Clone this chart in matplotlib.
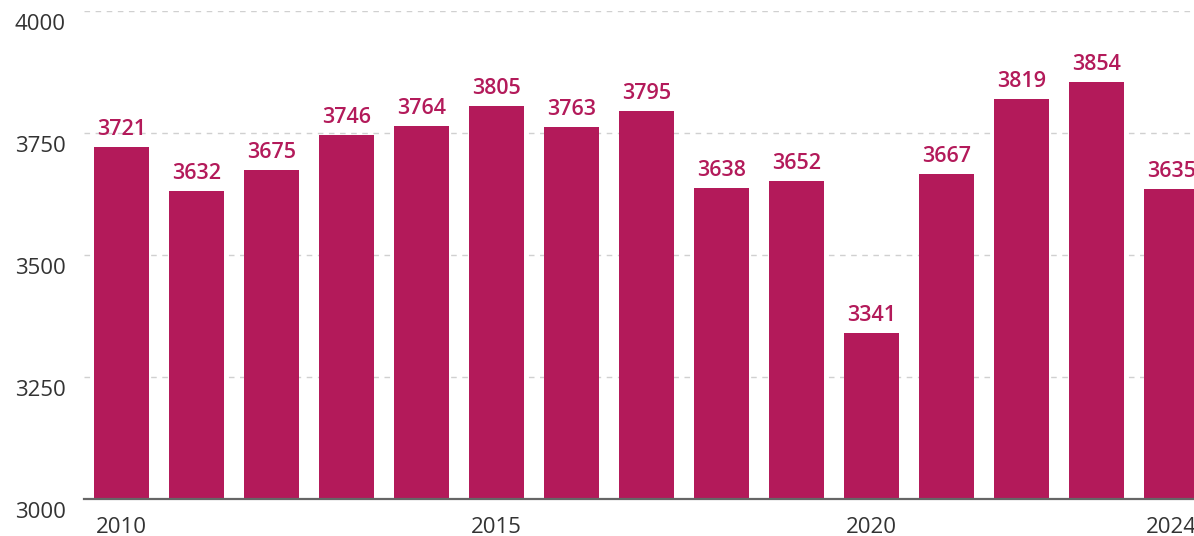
import matplotlib
matplotlib.use('Agg')
import matplotlib.pyplot as plt
import matplotlib.transforms as mtransforms

# Data
years = list(range(2010, 2025))
values = [3721, 3632, 3675, 3746, 3764, 3805, 3763, 3795, 3638, 3652, 3341, 3667, 3819, 3854, 3635]
y_ticks = [3000, 3250, 3500, 3750, 4000]
x_ticks = [2010, 2015, 2020, 2024]

bar_color = '#B31A5A'
plt.rcParams['font.family'] = ['Open Sans', 'DejaVu Sans']

fig = plt.figure(figsize=(11.94, 5.36), dpi=100)
ax = fig.add_axes([84 / 1194, 37 / 536, 1 - 84 / 1194, 488 / 536])

ax.bar(years, values, width=0.733, color=bar_color, zorder=3)

for x, v in zip(years, values):
    ax.annotate(str(v), (x, v), xytext=(0, 5), textcoords='offset points',
                ha='center', va='bottom', color=bar_color, fontsize=15.5,
                fontweight='semibold', zorder=4)

ax.set_xlim(2009.5, 2024.3)
ax.set_ylim(3000, 4000)
ax.set_yticks(y_ticks)
ax.set_xticks(x_ticks)
ax.set_yticklabels([str(t) for t in y_ticks])
ax.set_xticklabels([str(t) for t in x_ticks])

ax.yaxis.grid(True, linestyle=(0, (4, 4)), color='#d0d0d0', linewidth=1, zorder=0)
ax.set_axisbelow(True)

for side in ['top', 'right', 'left']:
    ax.spines[side].set_visible(False)
ax.spines['bottom'].set_color('#666666')
ax.spines['bottom'].set_linewidth(1.6)
ax.spines['bottom'].set_zorder(5)

ax.tick_params(axis='y', length=0, pad=13, labelsize=16, labelcolor='#333333')
ax.tick_params(axis='x', length=0, pad=13, labelsize=16, labelcolor='#333333')

# y labels sit a bit below their grid lines
offset = mtransforms.ScaledTranslation(0, -11 / 100, fig.dpi_scale_trans)
for lbl in ax.get_yticklabels():
    lbl.set_transform(lbl.get_transform() + offset)

fig.savefig('out.png', dpi=100)
